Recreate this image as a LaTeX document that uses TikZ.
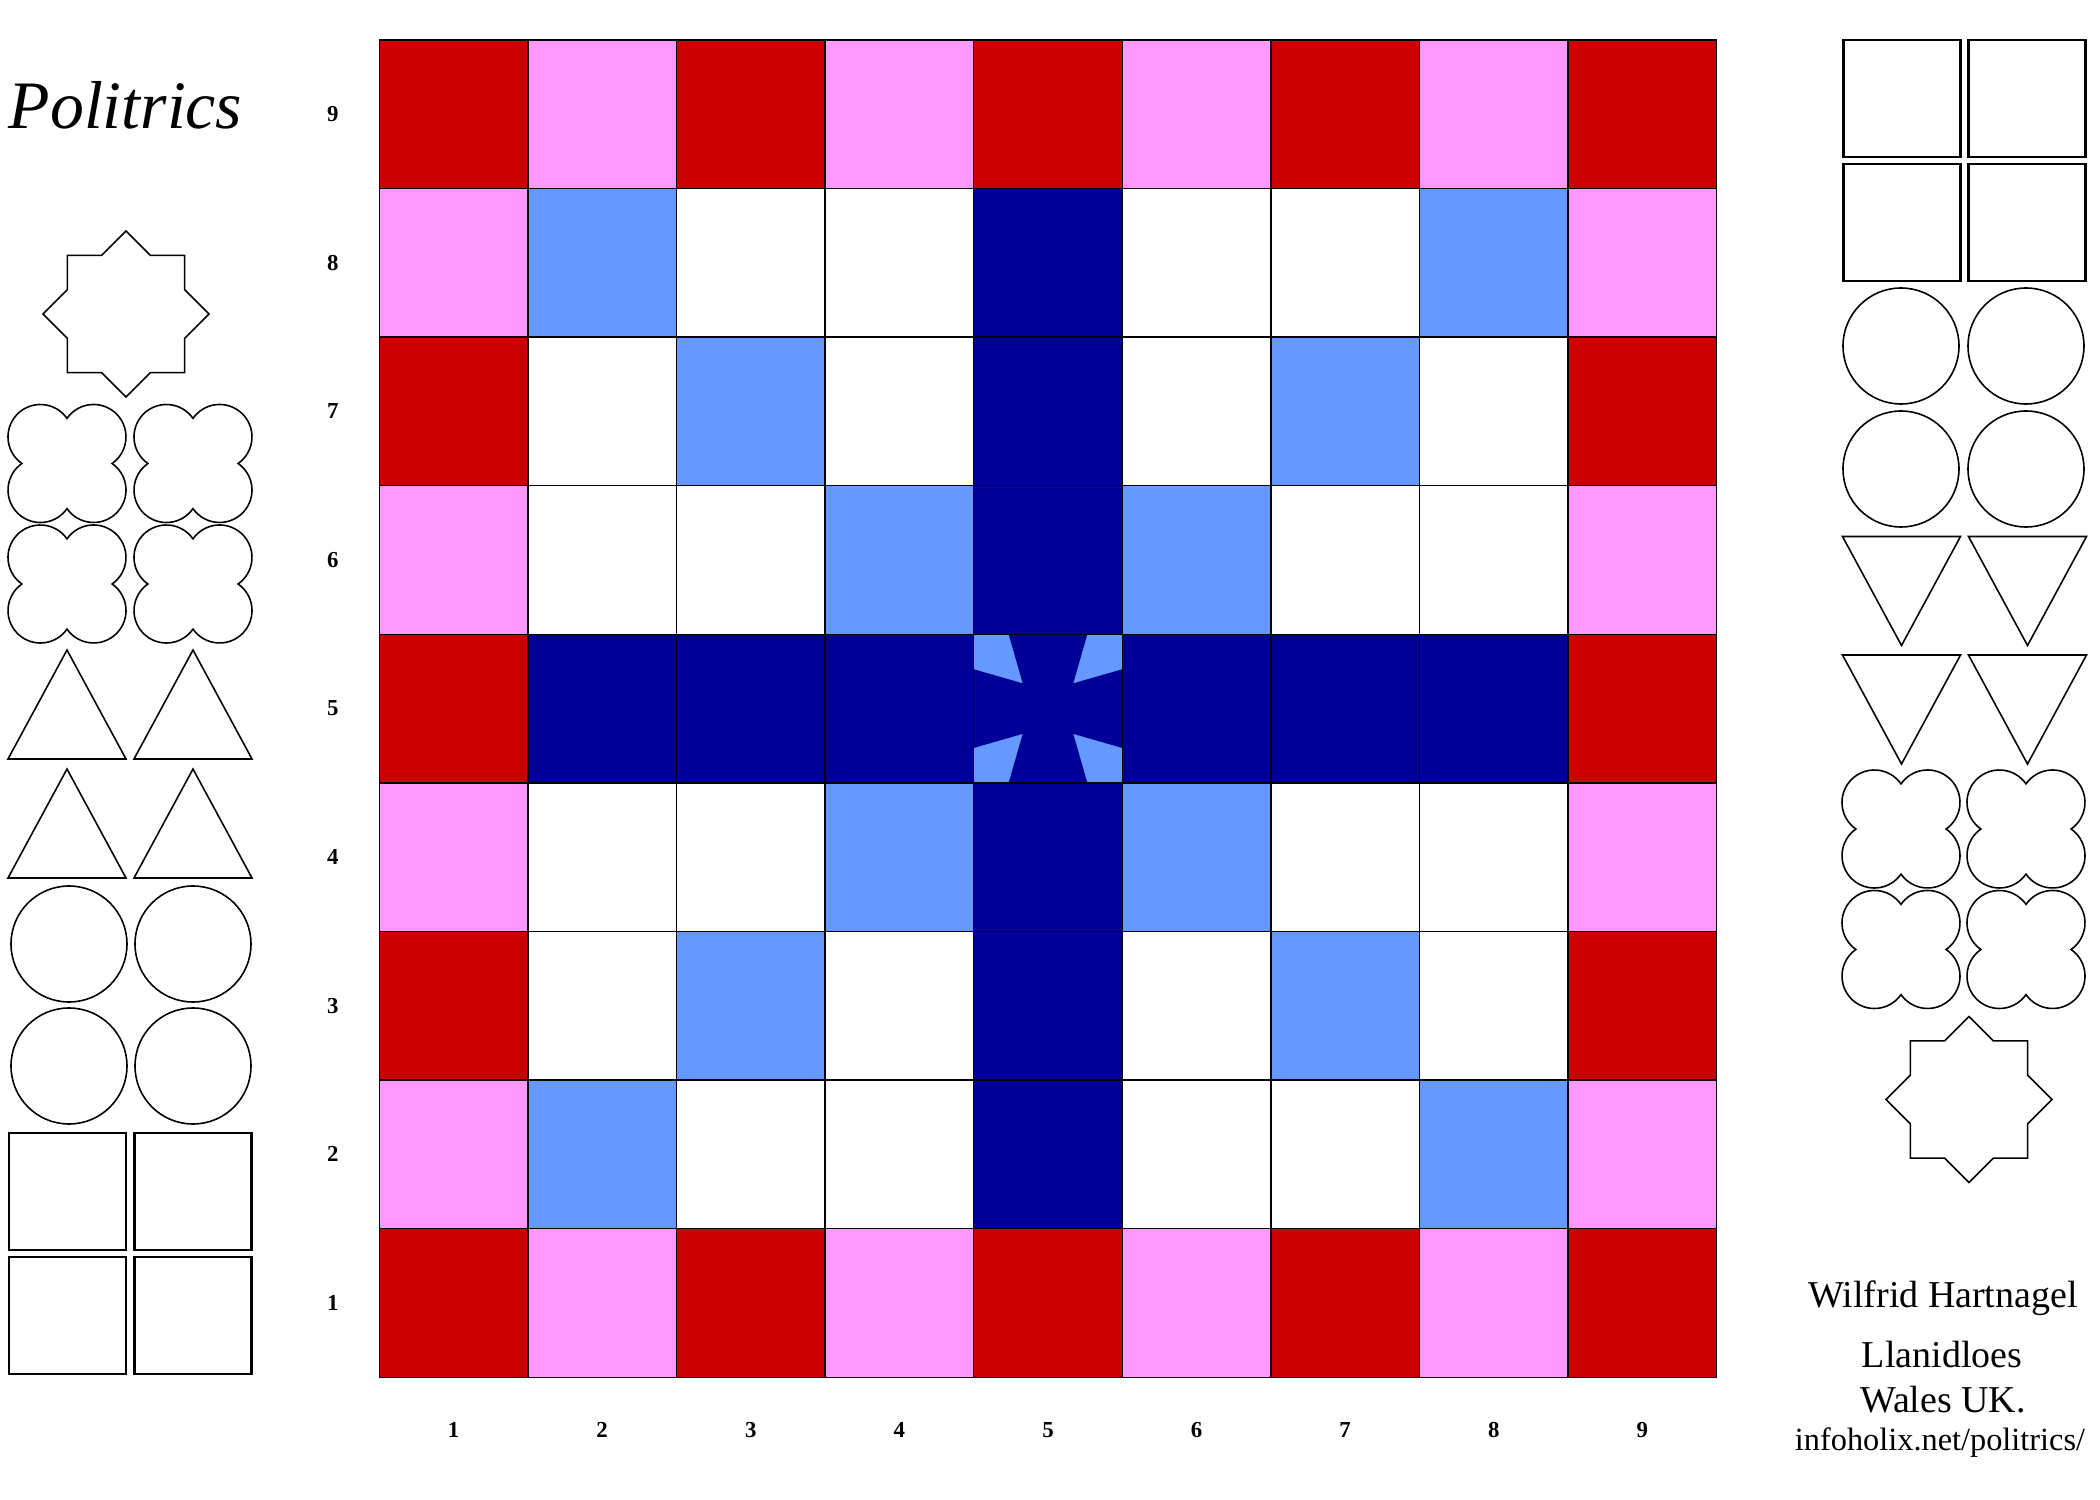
\documentclass[tikz,border=0pt]{standalone}
\usepackage{fontspec}
\setmainfont{Liberation Serif}
\usepackage{xcolor}
\usepackage{tikz}
\usetikzlibrary{positioning}

\definecolor{boardred}{RGB}{204,0,0}
\definecolor{boardpink}{RGB}{255,153,255}
\definecolor{boardsky}{RGB}{102,153,255}
\definecolor{boardnavy}{RGB}{0,0,153}

\begin{document}
\begin{tikzpicture}[
    redcell/.style={fill=boardred},
    pinkcell/.style={fill=boardpink},
    skycell/.style={fill=boardsky},
    navycell/.style={fill=boardnavy},
    gridline/.style={draw=black, line width=0.4pt},
    piece/.style={draw=black, line width=0.45pt, fill=white},
    boxpiece/.style={draw=black, line width=0.65pt, fill=white},
    numlabel/.style={font=\fontsize{6.5}{8}\selectfont\bfseries, inner sep=0pt},
    credit/.style={font=\fontsize{10.8}{13}\selectfont, inner sep=0pt, anchor=base},
    sqpiece/.pic={\draw[boxpiece] (-0.585,-0.585) rectangle (0.585,0.585);},
    ringpiece/.pic={\draw[piece] (0,0) circle (0.58);},
    uppiece/.pic={\draw[piece] (-0.59,-0.545) -- (0.59,-0.545) -- (0,0.545) -- cycle;},
    downpiece/.pic={\draw[piece] (-0.59,0.545) -- (0.59,0.545) -- (0,-0.545) -- cycle;},
    leafpiece/.pic={\draw[piece] (0,0.451)
        arc[start angle=145.2, end angle=-55.2, radius=0.324]
        arc[start angle=55.2, end angle=-145.2, radius=0.324]
        arc[start angle=-34.8, end angle=-235.2, radius=0.324]
        arc[start angle=-124.8, end angle=-325.2, radius=0.324] -- cycle;},
    starpiece/.pic={\draw[piece] (0:0.83)
        \foreach \k in {1,...,15} { -- ({22.5*\k}:{0.7325+0.0975*cos(180*\k)}) } -- cycle;}
]

\useasboundingbox (0,0) rectangle (21,15);

% titel
\node[anchor=base west, inner sep=0pt, font=\fontsize{19.3}{23}\selectfont\itshape] (title) at (0.08,13.71) {Politrics};

% spielbrett 9x9
\begin{scope}[shift={(3.793,1.227)}, x=1.486cm, y=1.486cm]
  % rand: rot und rosa
  \foreach \i in {1,3,5,7,9} {
    \fill[redcell] (\i-1,0) rectangle (\i,1);
    \fill[redcell] (\i-1,8) rectangle (\i,9);
    \fill[redcell] (0,\i-1) rectangle (1,\i);
    \fill[redcell] (8,\i-1) rectangle (9,\i);
  }
  \foreach \i in {2,4,6,8} {
    \fill[pinkcell] (\i-1,0) rectangle (\i,1);
    \fill[pinkcell] (\i-1,8) rectangle (\i,9);
    \fill[pinkcell] (0,\i-1) rectangle (1,\i);
    \fill[pinkcell] (8,\i-1) rectangle (9,\i);
  }
  % diagonalen hellblau, kreuz dunkelblau
  \foreach \i in {2,3,4,6,7,8} {
    \fill[skycell] (\i-1,\i-1) rectangle (\i,\i);
    \fill[skycell] (\i-1,9-\i) rectangle (\i,10-\i);
    \fill[navycell] (4,\i-1) rectangle (5,\i);
    \fill[navycell] (\i-1,4) rectangle (\i,5);
  }
  % mittelfeld mit tatzenkreuz
  \fill[skycell] (4,4) rectangle (5,5);
  \fill[navycell, shift={(4,4)}] (0.235,1) -- (0.765,1) -- (0.67,0.67) -- (1,0.765) -- (1,0.235)
    -- (0.67,0.33) -- (0.765,0) -- (0.235,0) -- (0.33,0.33) -- (0,0.235) -- (0,0.765)
    -- (0.33,0.67) -- cycle;
  % linien
  \foreach \k in {0,...,9} {
    \draw[gridline] (\k,0) -- (\k,9);
    \draw[gridline] (0,\k) -- (9,\k);
  }
  % nummern
  \foreach \j in {1,...,9} {
    \node[numlabel] (row\j) at (-0.312,\j-0.5) {\j};
    \node[numlabel] (col\j) at (\j-0.5,-0.355) {\j};
  }
\end{scope}

% steine links
\pic at (1.26,11.86) {starpiece};
\pic at (0.67,10.365) {leafpiece};
\pic at (1.93,10.365) {leafpiece};
\pic at (0.67,9.16) {leafpiece};
\pic at (1.93,9.16) {leafpiece};
\pic at (0.67,7.955) {uppiece};
\pic at (1.93,7.955) {uppiece};
\pic at (0.67,6.765) {uppiece};
\pic at (1.93,6.765) {uppiece};
\pic at (0.69,5.56) {ringpiece};
\pic at (1.93,5.56) {ringpiece};
\pic at (0.69,4.34) {ringpiece};
\pic at (1.93,4.34) {ringpiece};
\pic at (0.675,3.085) {sqpiece};
\pic at (1.93,3.085) {sqpiece};
\pic at (0.675,1.845) {sqpiece};
\pic at (1.93,1.845) {sqpiece};

% steine rechts
\pic at (19.02,14.013) {sqpiece};
\pic at (20.27,14.013) {sqpiece};
\pic at (19.02,12.773) {sqpiece};
\pic at (20.27,12.773) {sqpiece};
\pic at (19.01,11.54) {ringpiece};
\pic at (20.26,11.54) {ringpiece};
\pic at (19.01,10.31) {ringpiece};
\pic at (20.26,10.31) {ringpiece};
\pic at (19.015,9.09) {downpiece};
\pic at (20.275,9.09) {downpiece};
\pic at (19.015,7.905) {downpiece};
\pic at (20.275,7.905) {downpiece};
\pic at (19.01,6.71) {leafpiece};
\pic at (20.26,6.71) {leafpiece};
\pic at (19.01,5.505) {leafpiece};
\pic at (20.26,5.505) {leafpiece};
\pic at (19.69,4.005) {starpiece};

% autor
\node[credit] (author) at (19.43,1.93) {Wilfrid Hartnagel};
\node[credit] (town) at (19.42,1.32) {Llanidloes};
\node[credit] (country) at (19.43,0.87) {Wales UK.};
\node[credit, font=\fontsize{9.2}{11}\selectfont] (site) at (19.40,0.50) {infoholix.net/politrics/};

\end{tikzpicture}
\end{document}
